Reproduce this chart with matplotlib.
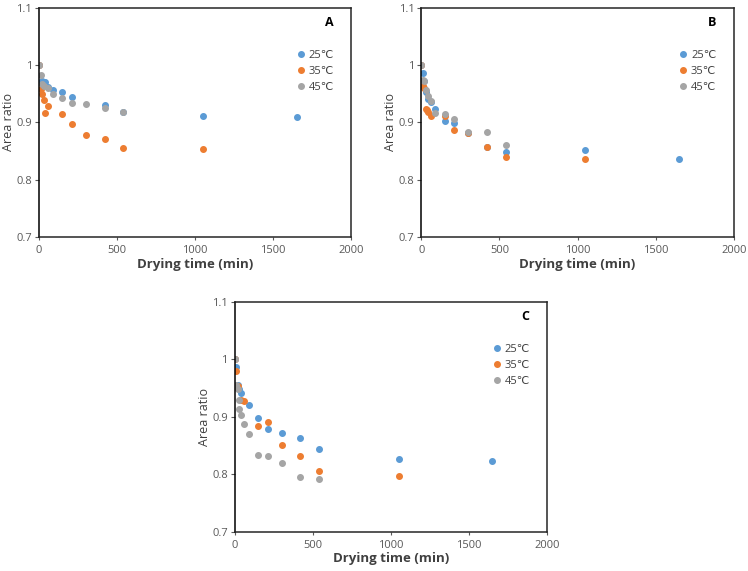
import matplotlib
matplotlib.use('Agg')
import matplotlib.pyplot as plt

plt.rcParams['font.family'] = ['Open Sans', 'DejaVu Sans']

LABELS = ['25℃', '35℃', '45℃']
COLORS = ['#5B9BD5', '#ED7D31', '#A5A5A5']

# panel A
a_t25 = [0, 10, 20, 30, 40, 60, 90, 150, 210, 420, 540, 1050, 1650]
a_y25 = [1.0, 0.970, 0.972, 0.970, 0.971, 0.962, 0.956, 0.953, 0.944, 0.930, 0.918, 0.911, 0.910]
a_t35 = [0, 10, 20, 30, 40, 60, 150, 210, 300, 420, 540, 1050]
a_y35 = [1.0, 0.959, 0.950, 0.940, 0.916, 0.929, 0.915, 0.898, 0.878, 0.871, 0.855, 0.853]
a_t45 = [0, 10, 20, 30, 60, 90, 150, 210, 300, 420, 540]
a_y45 = [1.0, 0.983, 0.968, 0.964, 0.960, 0.949, 0.942, 0.934, 0.933, 0.925, 0.918]

# panel B
b_t25 = [0, 10, 20, 30, 40, 60, 90, 150, 210, 300, 420, 540, 1050, 1650]
b_y25 = [1.0, 0.986, 0.972, 0.953, 0.941, 0.935, 0.924, 0.903, 0.899, 0.882, 0.858, 0.848, 0.852, 0.836]
b_t35 = [0, 10, 20, 30, 35, 45, 60, 150, 210, 300, 420, 540, 1050]
b_y35 = [1.0, 0.964, 0.961, 0.924, 0.922, 0.919, 0.911, 0.911, 0.887, 0.881, 0.857, 0.839, 0.837]
b_t45 = [0, 10, 20, 30, 40, 60, 90, 150, 210, 300, 420, 540]
b_y45 = [1.0, 0.975, 0.972, 0.956, 0.946, 0.937, 0.917, 0.915, 0.906, 0.884, 0.883, 0.860]

# panel C
c_t25 = [0, 10, 20, 30, 40, 90, 150, 210, 300, 420, 540, 1050, 1650]
c_y25 = [1.0, 0.986, 0.955, 0.948, 0.941, 0.921, 0.897, 0.879, 0.872, 0.863, 0.843, 0.827, 0.823]
c_t35 = [0, 10, 20, 40, 60, 150, 210, 300, 420, 540, 1050]
c_y35 = [1.0, 0.979, 0.953, 0.929, 0.927, 0.883, 0.891, 0.850, 0.832, 0.805, 0.797]
c_t45 = [0, 10, 20, 25, 30, 40, 60, 90, 150, 210, 300, 420, 540]
c_y45 = [1.0, 0.955, 0.949, 0.929, 0.913, 0.903, 0.887, 0.870, 0.834, 0.832, 0.820, 0.796, 0.792]

PANELS = [
	('A', [0.0521, 0.585, 0.4175, 0.401], [(a_t25, a_y25), (a_t35, a_y35), (a_t45, a_y45)]),
	('B', [0.5633, 0.585, 0.4176, 0.401], [(b_t25, b_y25), (b_t35, b_y35), (b_t45, b_y45)]),
	('C', [0.3138, 0.0688, 0.4175, 0.4028], [(c_t25, c_y25), (c_t35, c_y35), (c_t45, c_y45)]),
]

def drawPanel(fig, letter, rect, series):
	ax = fig.add_axes(rect)
	for (t, y), lab, col in zip(series, LABELS, COLORS):
		ax.plot(t, y, 'o', ms=4.0, color=col, label=lab, mec=col)
	ax.set_xlim(0, 2000)
	ax.set_ylim(0.7, 1.1)
	ax.set_xticks([0, 500, 1000, 1500, 2000])
	ax.set_yticks([0.7, 0.8, 0.9, 1.0, 1.1])
	ax.set_yticklabels(['0.7', '0.8', '0.9', '1', '1.1'])
	ax.tick_params(labelsize=8, colors='#595959', length=3, width=0.8, pad=2)
	ax.tick_params(axis='x', length=2, pad=4)
	for side in ['left', 'bottom', 'top', 'right']:
		ax.spines[side].set_color('#262626')
		ax.spines[side].set_linewidth(1.1)
	ax.spines['left'].set_color('black')
	ax.set_xlabel('Drying time (min)', fontsize=9.5, fontweight='bold', color='#404040', labelpad=1)
	ax.set_ylabel('Area ratio', fontsize=9, color='#404040', labelpad=1)
	ax.text(0.93, 0.935, letter, transform=ax.transAxes, fontsize=9, fontweight='bold',
		ha='center', va='center')
	ax.legend(loc='upper left', bbox_to_anchor=(0.81, 0.835), frameon=False, fontsize=8,
		handlelength=0.8, handletextpad=0.3, labelspacing=0.45, borderaxespad=0,
		labelcolor='#404040')
	return ax

def main():
	fig = plt.figure(figsize=(7.48, 5.71), dpi=100)
	for letter, rect, series in PANELS:
		drawPanel(fig, letter, rect, series)
	fig.savefig('out.png', dpi=100)

if __name__ == '__main__':
	main()
